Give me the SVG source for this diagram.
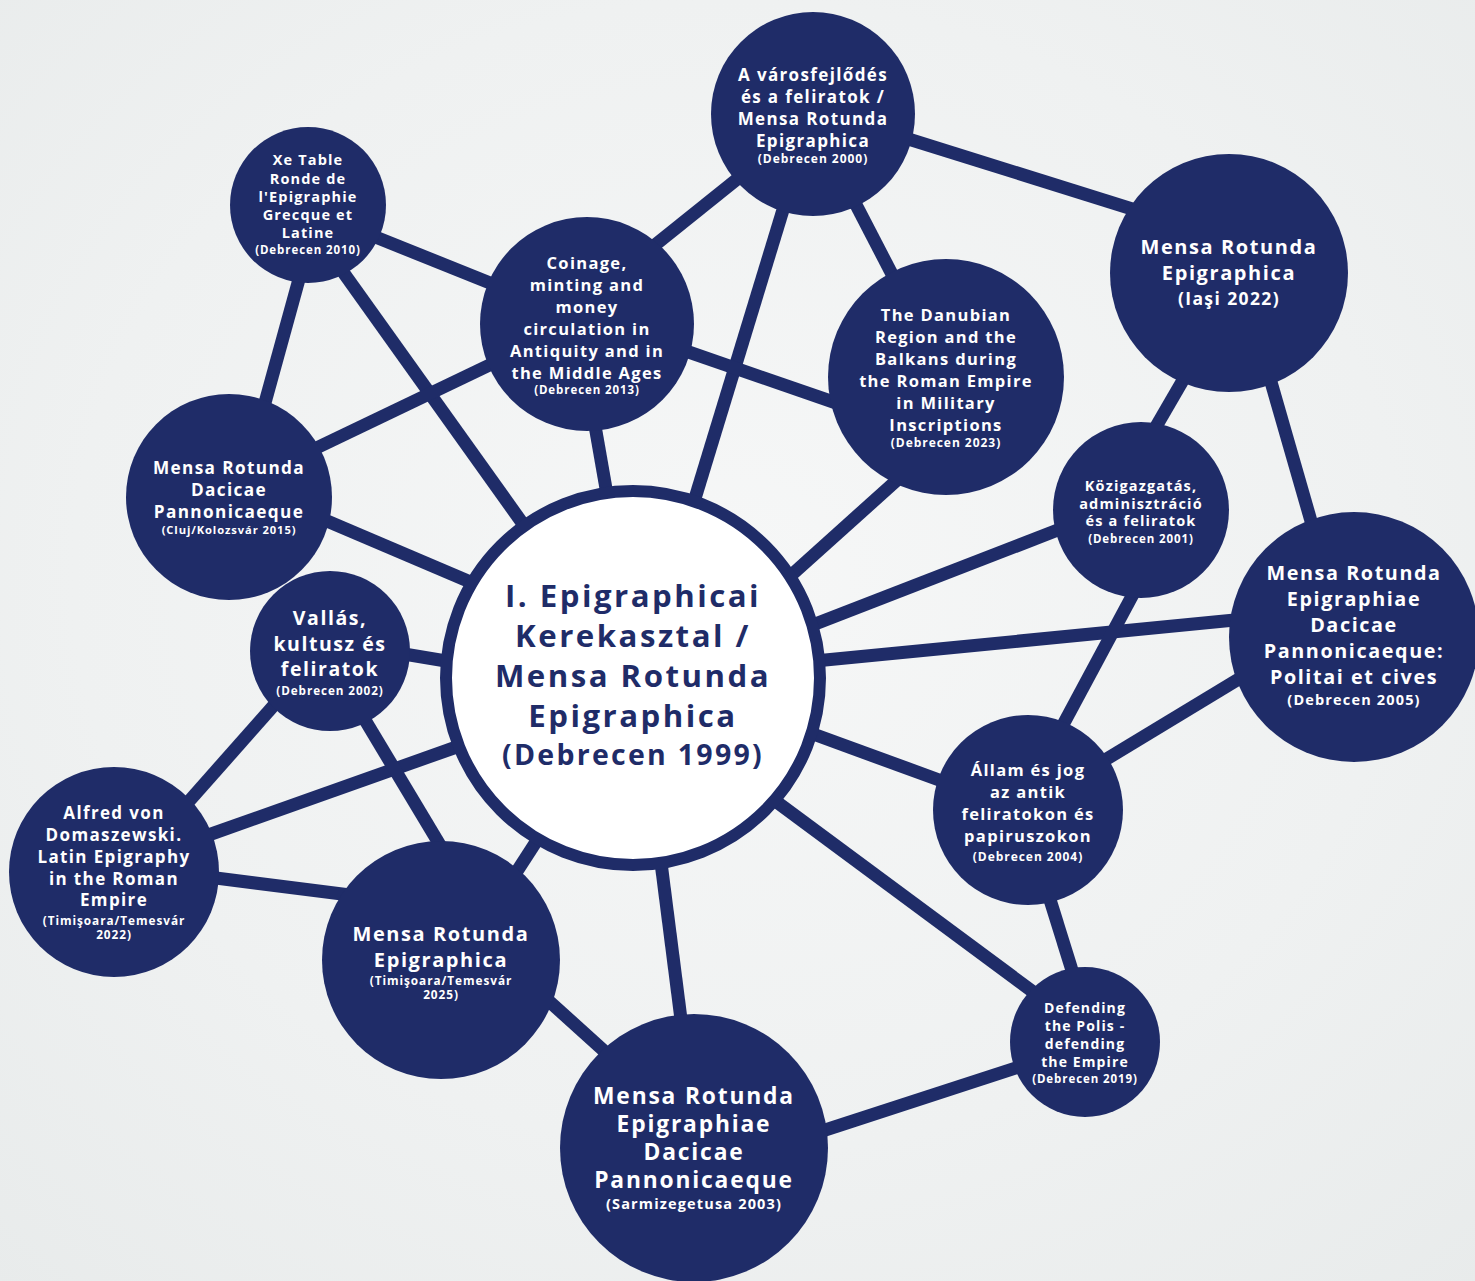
<svg xmlns="http://www.w3.org/2000/svg" width="1475" height="1281" viewBox="0 0 1475 1281">
<defs>
<style>
.edge{stroke:#1f2c68;stroke-width:13;fill:none}
.node{fill:#1f2c68}
.hub{fill:#ffffff;stroke:#1f2c68;stroke-width:12}
text{font-family:"Open Sans","Liberation Sans",sans-serif;font-weight:700;text-anchor:middle;letter-spacing:0.08em;fill:#ffffff}
.dark{fill:#1f2c68}
</style>
<radialGradient id="bgG" cx="0.5" cy="0.45" r="0.75">
<stop offset="0" stop-color="#f6f7f7"/>
<stop offset="0.6" stop-color="#eff1f1"/>
<stop offset="1" stop-color="#e8ebeb"/>
</radialGradient>
</defs>
<rect width="1475" height="1281" fill="url(#bgG)"/>
<g id="connectors">
<line class="edge" x1="594" y1="420" x2="608" y2="500"/>
<line class="edge" x1="786" y1="200" x2="693" y2="505"/>
<line class="edge" x1="338" y1="265" x2="528" y2="531"/>
<line class="edge" x1="906" y1="472" x2="787" y2="579"/>
<line class="edge" x1="1068" y1="526" x2="810" y2="626"/>
<line class="edge" x1="1245" y1="619" x2="815" y2="661"/>
<line class="edge" x1="805" y1="731" x2="950" y2="784"/>
<line class="edge" x1="659" y1="847" x2="682" y2="1027"/>
<line class="edge" x1="545" y1="828" x2="510" y2="882"/>
<line class="edge" x1="465" y1="744" x2="200" y2="838"/>
<line class="edge" x1="452" y1="662" x2="398" y2="653"/>
<line class="edge" x1="475" y1="584" x2="320" y2="518"/>
<line class="edge" x1="770" y1="797" x2="1040" y2="997"/>
<line class="edge" x1="645" y1="253" x2="746" y2="172"/>
<line class="edge" x1="852" y1="197" x2="895" y2="280"/>
<line class="edge" x1="902" y1="137" x2="1145" y2="213"/>
<line class="edge" x1="373" y1="236" x2="500" y2="287"/>
<line class="edge" x1="301" y1="272" x2="263" y2="410"/>
<line class="edge" x1="680" y1="349" x2="842" y2="405"/>
<line class="edge" x1="500" y1="360" x2="308" y2="452"/>
<line class="edge" x1="1186" y1="375" x2="1150" y2="437"/>
<line class="edge" x1="1269" y1="375" x2="1313" y2="528"/>
<line class="edge" x1="1138" y1="585" x2="1057" y2="736"/>
<line class="edge" x1="1247" y1="674" x2="1095" y2="766"/>
<line class="edge" x1="283" y1="695" x2="183" y2="808"/>
<line class="edge" x1="359" y1="710" x2="446" y2="855"/>
<line class="edge" x1="208" y1="877" x2="350" y2="895"/>
<line class="edge" x1="540" y1="993" x2="613" y2="1059"/>
<line class="edge" x1="1047" y1="890" x2="1075" y2="980"/>
<line class="edge" x1="1025" y1="1065" x2="816" y2="1133"/>
</g>
<g id="node-hub">
<circle class="hub" cx="633" cy="678" r="187"/>
<text class="dark" font-size="31.2" x="633" y="607">I. Epigraphicai</text>
<text class="dark" font-size="31.2" x="633" y="647">Kerekasztal /</text>
<text class="dark" font-size="31.2" x="633" y="687">Mensa Rotunda</text>
<text class="dark" font-size="31.2" x="633" y="727">Epigraphica</text>
<text class="dark" font-size="28.5" x="633" y="765">(Debrecen 1999)</text>
</g>
<g id="node-varos">
<circle class="node" cx="813" cy="114" r="102"/>
<text font-size="17" x="813" y="81">A városfejlődés</text>
<text font-size="17" x="813" y="103">és a feliratok /</text>
<text font-size="17" x="813" y="125">Mensa Rotunda</text>
<text font-size="17" x="813" y="147">Epigraphica</text>
<text font-size="12" x="813" y="163">(Debrecen 2000)</text>
</g>
<g id="node-xe">
<circle class="node" cx="308" cy="205" r="78"/>
<text font-size="14.5" x="308" y="165">Xe Table</text>
<text font-size="14.5" x="308" y="184">Ronde de</text>
<text font-size="14.5" x="308" y="202">l'Epigraphie</text>
<text font-size="14.5" x="308" y="220">Grecque et</text>
<text font-size="14.5" x="308" y="238">Latine</text>
<text font-size="11.5" x="308" y="254">(Debrecen 2010)</text>
</g>
<g id="node-coinage">
<circle class="node" cx="587" cy="324" r="107"/>
<text font-size="16.5" x="587" y="269">Coinage,</text>
<text font-size="16.5" x="587" y="291">minting and</text>
<text font-size="16.5" x="587" y="313">money</text>
<text font-size="16.5" x="587" y="335">circulation in</text>
<text font-size="16.5" x="587" y="357">Antiquity and in</text>
<text font-size="16.5" x="587" y="379">the Middle Ages</text>
<text font-size="11.5" x="587" y="394">(Debrecen 2013)</text>
</g>
<g id="node-iasi">
<circle class="node" cx="1229" cy="273" r="119"/>
<text font-size="20" x="1229" y="254">Mensa Rotunda</text>
<text font-size="20" x="1229" y="280">Epigraphica</text>
<text font-size="17.5" x="1229" y="305">(Iaşi 2022)</text>
</g>
<g id="node-danubian">
<circle class="node" cx="946" cy="377" r="118"/>
<text font-size="16.5" x="946" y="321">The Danubian</text>
<text font-size="16.5" x="946" y="343">Region and the</text>
<text font-size="16.5" x="946" y="365">Balkans during</text>
<text font-size="16.5" x="946" y="387">the Roman Empire</text>
<text font-size="16.5" x="946" y="409">in Military</text>
<text font-size="16.5" x="946" y="431">Inscriptions</text>
<text font-size="12" x="946" y="447">(Debrecen 2023)</text>
</g>
<g id="node-cluj">
<circle class="node" cx="229" cy="497" r="103"/>
<text font-size="17.2" x="229" y="474">Mensa Rotunda</text>
<text font-size="17.2" x="229" y="496">Dacicae</text>
<text font-size="17.2" x="229" y="518">Pannonicaeque</text>
<text font-size="11.2" x="229" y="534">(Cluj/Kolozsvár 2015)</text>
</g>
<g id="node-kozig">
<circle class="node" cx="1141" cy="510" r="88"/>
<text font-size="14.5" x="1141" y="491">Közigazgatás,</text>
<text font-size="14.5" x="1141" y="509">adminisztráció</text>
<text font-size="14.5" x="1141" y="526">és a feliratok</text>
<text font-size="11.5" x="1141" y="543">(Debrecen 2001)</text>
</g>
<g id="node-politai">
<circle class="node" cx="1354" cy="637" r="125"/>
<text font-size="19.8" x="1354" y="580">Mensa Rotunda</text>
<text font-size="19.8" x="1354" y="606">Epigraphiae</text>
<text font-size="19.8" x="1354" y="632">Dacicae</text>
<text font-size="19.8" x="1354" y="658">Pannonicaeque:</text>
<text font-size="19.8" x="1354" y="684">Politai et cives</text>
<text font-size="14.5" x="1354" y="705">(Debrecen 2005)</text>
</g>
<g id="node-vallas">
<circle class="node" cx="330" cy="651" r="80"/>
<text font-size="19.5" x="330" y="625">Vallás,</text>
<text font-size="19.5" x="330" y="651">kultusz és</text>
<text font-size="19.5" x="330" y="676">feliratok</text>
<text font-size="11.7" x="330" y="695">(Debrecen 2002)</text>
</g>
<g id="node-allam">
<circle class="node" cx="1028" cy="810" r="95"/>
<text font-size="16.5" x="1028" y="776">Állam és jog</text>
<text font-size="16.5" x="1028" y="798">az antik</text>
<text font-size="16.5" x="1028" y="820">feliratokon és</text>
<text font-size="16.5" x="1028" y="842">papiruszokon</text>
<text font-size="12" x="1028" y="861">(Debrecen 2004)</text>
</g>
<g id="node-alfred">
<circle class="node" cx="114" cy="872" r="105"/>
<text font-size="17" x="114" y="819">Alfred von</text>
<text font-size="17" x="114" y="841">Domaszewski.</text>
<text font-size="17" x="114" y="863">Latin Epigraphy</text>
<text font-size="17" x="114" y="885">in the Roman</text>
<text font-size="17" x="114" y="906">Empire</text>
<text font-size="11.8" x="114" y="925">(Timişoara/Temesvár</text>
<text font-size="11.8" x="114" y="939">2022)</text>
</g>
<g id="node-tim2025">
<circle class="node" cx="441" cy="960" r="119"/>
<text font-size="20" x="441" y="941">Mensa Rotunda</text>
<text font-size="20" x="441" y="967">Epigraphica</text>
<text font-size="11.8" x="441" y="985">(Timişoara/Temesvár</text>
<text font-size="11.8" x="441" y="999">2025)</text>
</g>
<g id="node-defending">
<circle class="node" cx="1085" cy="1042" r="75"/>
<text font-size="14" x="1085" y="1013">Defending</text>
<text font-size="14" x="1085" y="1031">the Polis -</text>
<text font-size="14" x="1085" y="1049">defending</text>
<text font-size="14" x="1085" y="1067">the Empire</text>
<text font-size="11.5" x="1085" y="1083">(Debrecen 2019)</text>
</g>
<g id="node-sarmizegetusa">
<circle class="node" cx="694" cy="1148" r="134"/>
<text font-size="22.8" x="694" y="1104">Mensa Rotunda</text>
<text font-size="22.8" x="694" y="1132">Epigraphiae</text>
<text font-size="22.8" x="694" y="1160">Dacicae</text>
<text font-size="22.8" x="694" y="1188">Pannonicaeque</text>
<text font-size="14.5" x="694" y="1209">(Sarmizegetusa 2003)</text>
</g>
</svg>
